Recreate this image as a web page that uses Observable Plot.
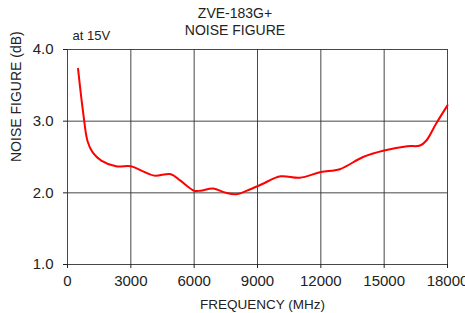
<!DOCTYPE html>
<html><head><meta charset="utf-8">
<script src="https://cdn.jsdelivr.net/npm/d3@7"></script>
<script src="https://cdn.jsdelivr.net/npm/@observablehq/plot@0.6"></script>
<style>body{margin:0;background:#fff}</style>
</head><body><div id="chart"></div>
<script>
const freq = [500,750,950,1200,1600,2300,3000,3500,4100,4900,5350,6000,6300,6900,7500,8000,8500,9200,10100,11000,12000,12900,14000,15000,16100,16700,17000,17450,18000];
const nf   = [3.73,3.10,2.72,2.56,2.45,2.37,2.37,2.31,2.24,2.26,2.17,2.03,2.03,2.06,2.00,1.98,2.03,2.12,2.23,2.21,2.29,2.33,2.50,2.59,2.65,2.66,2.73,2.96,3.22];
const xTicks = [0,3000,6000,9000,12000,15000,18000];
const yTicks = [1.0,2.0,3.0,4.0];
const titleLines = ["ZVE-183G+","NOISE FIGURE"];
const note = "at 15V";
const xLabel = "FREQUENCY (MHz)";
const yLabel = "NOISE FIGURE (dB)";

const data = freq.map((f,i)=>({f, v: nf[i]}));

const chart = Plot.plot({
  width: 465, height: 313,
  marginLeft: 67, marginRight: 18, marginTop: 49, marginBottom: 49,
  style: {fontFamily: "'Liberation Sans', Arial, sans-serif", fontSize: "14px", color: "#222", background: "#fff", overflow: "visible"},
  x: {domain: [0,18000]},
  y: {domain: [1,4]},
  marks: [
    Plot.gridX(xTicks, {stroke: "#333", strokeOpacity: 0.9, strokeWidth: 1}),
    Plot.gridY(yTicks, {stroke: "#333", strokeOpacity: 0.9, strokeWidth: 1}),
    Plot.axisX(xTicks, {tickSize: 4, tickPadding: 7, tickFormat: d3.format("d"), label: null, fontSize: 15}),
    Plot.axisY(yTicks, {tickSize: 4, tickPadding: 10, tickFormat: d3.format(".1f"), label: null, fontSize: 15}),
    Plot.line(data, {x: "f", y: "v", stroke: "#ff0000", strokeWidth: 2, curve: "catmull-rom"}),
    Plot.text([titleLines.join("\n")], {frameAnchor: "top", dx: -22.5, dy: -43, lineAnchor: "top", fontSize: 14, lineHeight: 1.17, fill: "#222"}),
    Plot.text([note], {frameAnchor: "top-left", dx: 5, dy: -19, lineAnchor: "top", textAnchor: "start", fontSize: 13, fill: "#222"}),
    Plot.text([xLabel], {frameAnchor: "bottom", dx: 5, dy: 40, lineAnchor: "middle", fontSize: 13.5, fill: "#222"}),
    Plot.text([yLabel], {frameAnchor: "left", dx: -51, dy: 5, rotate: -90, fontSize: 14, fill: "#222"})
  ]
});
document.getElementById("chart").append(chart);
</script></body></html>
